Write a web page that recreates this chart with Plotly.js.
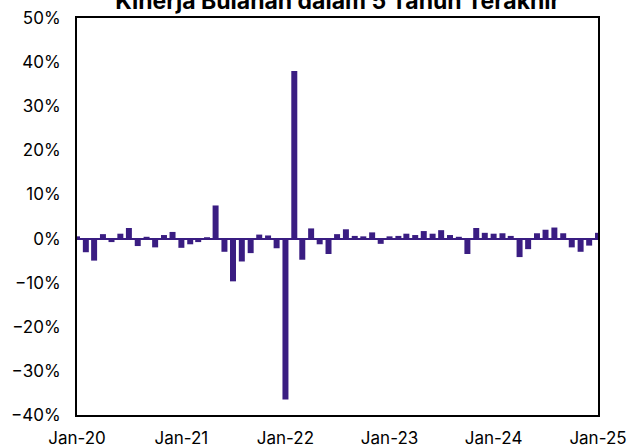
<!DOCTYPE html>
<html>
<head>
<meta charset="utf-8">
<script src="https://cdn.plot.ly/plotly-3.0.1.min.js"></script>
<style>html,body{margin:0;padding:0;background:#fff;}#chart{width:627px;height:448px;}</style>
</head>
<body>
<div id="chart"></div>
<script>
// Monthly returns (%) Jan-2020 .. Jan-2025
const months = [
  "2020-01-01","2020-02-01","2020-03-01","2020-04-01","2020-05-01","2020-06-01","2020-07-01","2020-08-01","2020-09-01","2020-10-01","2020-11-01","2020-12-01",
  "2021-01-01","2021-02-01","2021-03-01","2021-04-01","2021-05-01","2021-06-01","2021-07-01","2021-08-01","2021-09-01","2021-10-01","2021-11-01","2021-12-01",
  "2022-01-01","2022-02-01","2022-03-01","2022-04-01","2022-05-01","2022-06-01","2022-07-01","2022-08-01","2022-09-01","2022-10-01","2022-11-01","2022-12-01",
  "2023-01-01","2023-02-01","2023-03-01","2023-04-01","2023-05-01","2023-06-01","2023-07-01","2023-08-01","2023-09-01","2023-10-01","2023-11-01","2023-12-01",
  "2024-01-01","2024-02-01","2024-03-01","2024-04-01","2024-05-01","2024-06-01","2024-07-01","2024-08-01","2024-09-01","2024-10-01","2024-11-01","2024-12-01",
  "2025-01-01"
];
const returns = [
  0.5, -3.1, -5.0, 1.0, -0.8, 1.1, 2.4, -1.7, 0.4, -2.0, 0.8, 1.5,
  -2.1, -1.3, -0.8, 0.3, 7.5, -3.0, -9.7, -5.2, -3.3, 0.9, 0.7, -2.2,
  -36.5, 38.0, -4.8, 2.3, -1.3, -3.5, 1.0, 2.1, 0.6, 0.5, 1.4, -1.2,
  0.5, 0.6, 1.1, 0.8, 1.7, 1.1, 1.9, 0.8, 0.4, -3.5, 2.4, 1.3,
  1.1, 1.2, 0.6, -4.2, -2.4, 1.2, 2.0, 2.5, 1.2, -2.0, -3.0, -1.6,
  1.3
];
const xTickVals = ["2020-01-01","2021-01-01","2022-01-01","2023-01-01","2024-01-01","2025-01-01"];
const xTickText = ["Jan-20","Jan-21","Jan-22","Jan-23","Jan-24","Jan-25"];
const titleText = "Kinerja Bulanan dalam 5 Tahun Terakhir";

const barColor = "#3a1d82";
const dayMs = 86400000;

const trace = {
  type: "bar",
  x: months,
  y: returns,
  width: months.map(() => 21 * dayMs),
  marker: {color: barColor, line: {width: 0}},
  hoverinfo: "x+y"
};

const layout = {
  width: 627,
  height: 448,
  margin: {l: 77, r: 29, t: 18, b: 33, pad: 0},
  paper_bgcolor: "#ffffff",
  plot_bgcolor: "#ffffff",
  font: {family: "Inter, 'DejaVu Sans', sans-serif", size: 16, color: "#000"},
  showlegend: false,
  title: {
    text: "<b>" + titleText + "</b>",
    font: {family: "Inter, 'DejaVu Sans', sans-serif", size: 23, color: "#000"},
    x: 0.5385, xref: "container", xanchor: "center",
    y: 0.998, yref: "container", yanchor: "middle"
  },
  xaxis: {
    type: "date",
    range: ["2020-01-01", "2025-01-01"],
    tickmode: "array",
    tickvals: xTickVals,
    ticktext: xTickText,
    showgrid: false,
    zeroline: false,
    showline: true,
    mirror: true,
    linecolor: "#000",
    linewidth: 2,
    ticks: "",
    ticklabelstandoff: 7,
    tickfont: {size: 17}
  },
  yaxis: {
    range: [-40, 50],
    dtick: 10,
    tick0: 0,
    ticksuffix: "%",
    showgrid: false,
    zeroline: true,
    zerolinecolor: barColor,
    zerolinewidth: 2,
    showline: true,
    mirror: true,
    linecolor: "#000",
    linewidth: 2,
    ticks: "",
    ticklabelstandoff: 11,
    tickfont: {size: 17}
  },
  bargap: 0.35
};

Plotly.newPlot("chart", [trace], layout, {displayModeBar: false, staticPlot: true});
</script>
</body>
</html>
